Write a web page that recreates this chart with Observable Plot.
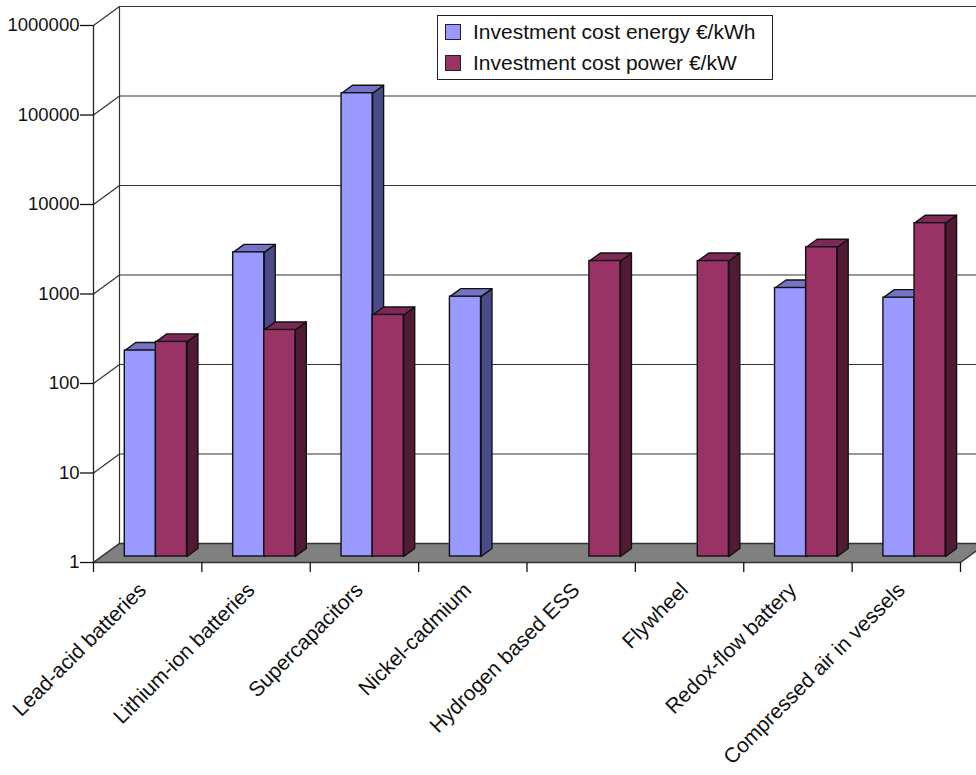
<!DOCTYPE html>
<html>
<head>
<meta charset="utf-8">
<script src="https://cdn.jsdelivr.net/npm/d3@7"></script>
<script src="https://cdn.jsdelivr.net/npm/@observablehq/plot@0.6"></script>
<style>
  html, body { margin: 0; padding: 0; background: #fff; overflow: hidden; }
  #chart { position: relative; width: 976px; height: 775px; overflow: hidden; font-family: "Liberation Sans", Arial, sans-serif; }
  #chart svg { overflow: hidden; }
  .legend { position: absolute; left: 437px; top: 15px; width: 334px; height: 63px; border: 1px solid #222; background: #fff; }
  .legend .row { position: absolute; left: 7px; display: flex; align-items: center; font-size: 21px; color: #111; }
  .legend .sw { width: 14px; height: 14px; border: 1px solid #222; margin-right: 12px; }
</style>
</head>
<body>
<div id="chart"></div>
<script>
// Storage technologies and their investment costs (log scale)
const categories = [
  "Lead-acid batteries",
  "Lithium-ion batteries",
  "Supercapacitors",
  "Nickel-cadmium",
  "Hydrogen based ESS",
  "Flywheel",
  "Redox-flow battery",
  "Compressed air in vessels"
];
const energyCost = [200, 2500, 150000, 800, null, null, 1000, 780];   // €/kWh
const powerCost  = [250, 340, 500, null, 2000, 2000, 2850, 5300];     // €/kW
const seriesNames = ["Investment cost energy €/kWh", "Investment cost power €/kW"];
const yTicks = [1, 10, 100, 1000, 10000, 100000, 1000000];

// Colours: front, side and top face of each series
const palette = [
  {front: "#9999ff", side: "#4b4b8a", top: "#7474c6"},
  {front: "#993366", side: "#521a35", top: "#7c2a55"}
];

// Oblique projection of the box: depth runs back and up
const DEPTH_X = 26 / 108.375;           // in category units
const DEPTH_F = Math.pow(10, 19 / 89.5); // multiplicative, per full depth, on the log axis
const proj = (x, v, d) => ({x: x + d * DEPTH_X, y: v * Math.pow(DEPTH_F, d)});
const FRONT = 6 / 19, BACK = 14 / 19;    // depth range occupied by the columns
const BAR_W = 0.287;
const N = categories.length;

const bars = [];
[energyCost, powerCost].forEach((arr, s) => {
  arr.forEach((v, i) => {
    if (v != null) bars.push({s, i, v, x0: i + (s === 0 ? 0.5 - BAR_W : 0.5)});
  });
});

function polygonRows(list, corners) {
  const rows = [];
  list.forEach((b, k) => {
    for (const [x, v, d] of corners(b)) rows.push({key: k, ...proj(x, v, d)});
  });
  return rows;
}
const sideRows = (s) => polygonRows(bars.filter(b => b.s === s), b => {
  const x1 = b.x0 + BAR_W;
  return [[x1, 1, FRONT], [x1, b.v, FRONT], [x1, b.v, BACK], [x1, 1, BACK]];
});
const topRows = (s) => polygonRows(bars.filter(b => b.s === s), b => {
  const x1 = b.x0 + BAR_W;
  return [[b.x0, b.v, FRONT], [x1, b.v, FRONT], [x1, b.v, BACK], [b.x0, b.v, BACK]];
});
const frontBars = (s) => bars.filter(b => b.s === s).map(b => ({
  x1: proj(b.x0, 1, FRONT).x,
  x2: proj(b.x0 + BAR_W, 1, FRONT).x,
  y1: proj(0, 1, FRONT).y,
  y2: proj(0, b.v, FRONT).y
}));

const floorRows = polygonRows([{}], () => [[0, 1, 0], [N, 1, 0], [N, 1, 1], [0, 1, 1]]);

const barMarks = [];
for (const s of [0, 1]) {
  const c = palette[s];
  barMarks.push(
    Plot.line(sideRows(s), {x: "x", y: "y", z: "key", curve: "linear-closed", fill: c.side, stroke: "#111", strokeWidth: 1.4, strokeLinejoin: "round"}),
    Plot.line(topRows(s), {x: "x", y: "y", z: "key", curve: "linear-closed", fill: c.top, stroke: "#111", strokeWidth: 1.4, strokeLinejoin: "round"}),
    Plot.rect(frontBars(s), {x1: "x1", x2: "x2", y1: "y1", y2: "y2", fill: c.front, stroke: "#111", strokeWidth: 1.4})
  );
}

const chart = Plot.plot({
  width: 976,
  height: 775,
  marginLeft: 93,
  marginRight: 16,
  marginTop: 25,
  marginBottom: 213,
  style: {fontFamily: "'Liberation Sans', Arial, sans-serif", fontSize: "18px", background: "#fff", color: "#111"},
  x: {type: "linear", domain: [0, N], label: null},
  y: {type: "log", domain: [1, 1e6], label: null},
  marks: [
    // back wall grid, its left edge, and the side wall diagonals
    Plot.ruleY(yTicks, {y: d => d * DEPTH_F, x1: DEPTH_X, x2: N + DEPTH_X, stroke: "#333", strokeWidth: 1.2}),
    Plot.ruleX([DEPTH_X], {y1: DEPTH_F, y2: 1e6 * DEPTH_F, stroke: "#333", strokeWidth: 1.2}),
    Plot.link(yTicks, {x1: 0, y1: d => d, x2: DEPTH_X, y2: d => d * DEPTH_F, stroke: "#333", strokeWidth: 1.2}),
    // floor
    Plot.line(floorRows, {x: "x", y: "y", z: "key", curve: "linear-closed", fill: "#808080", stroke: "#333", strokeWidth: 1.4}),
    // value axis line
    Plot.ruleX([0], {y1: 1, y2: 1e6, stroke: "#222", strokeWidth: 1.3}),
    ...barMarks,
    Plot.axisY({ticks: yTicks, tickSize: 13, tickPadding: 1, tickFormat: d => String(d), fontSize: 18.5, strokeWidth: 1.3}),
    Plot.axisX({ticks: d3.range(N + 1), tickSize: 10, tickFormat: () => "", strokeWidth: 1.3}),
    Plot.text(categories, {
      x: (d, i) => i + 0.5, y: 1, text: d => d,
      rotate: -45, textAnchor: "end", dx: -5, dy: 24, fontSize: 21, fill: "#111"
    })
  ]
});

const root = document.getElementById("chart");
root.appendChild(chart);

// legend box over the back wall
const legend = document.createElement("div");
legend.className = "legend";
seriesNames.forEach((name, s) => {
  const row = document.createElement("div");
  row.className = "row";
  row.style.top = (s === 0 ? 4 : 35) + "px";
  const sw = document.createElement("span");
  sw.className = "sw";
  sw.style.background = palette[s].front;
  const label = document.createElement("span");
  label.textContent = name;
  row.append(sw, label);
  legend.appendChild(row);
});
root.appendChild(legend);
</script>
</body>
</html>
